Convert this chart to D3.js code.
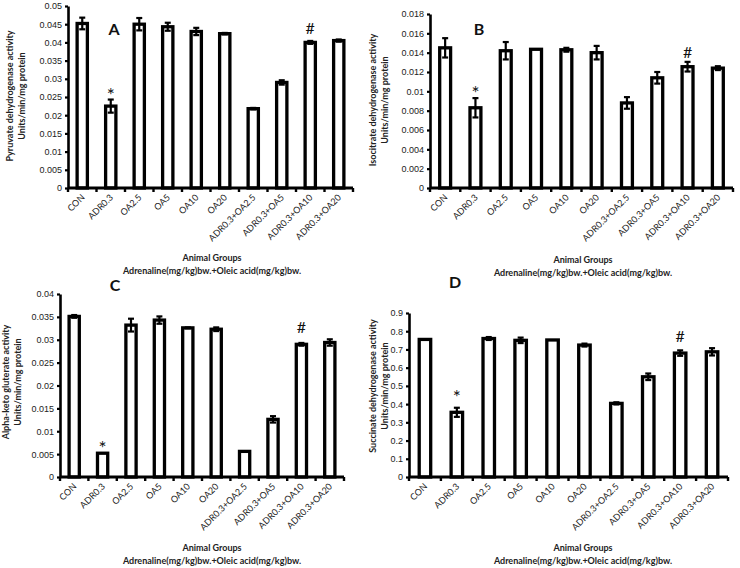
<!DOCTYPE html>
<html>
<head>
<meta charset="utf-8">
<script src="https://cdn.jsdelivr.net/npm/d3@7"></script>
<style>
  body { margin: 0; background: #fff; }
  svg { display: block; font-family: Lato, "Open Sans", sans-serif; }
</style>
</head>
<body>
<div id="chart"></div>
<script>
// groups on the x axis (same for all four panels)
const groups = ["CON", "ADR0.3", "OA2.5", "OA5", "OA10", "OA20",
  "ADR0.3+OA2.5", "ADR0.3+OA5", "ADR0.3+OA10", "ADR0.3+OA20"];

// panel A - pyruvate dehydrogenase
const pdhMean = [0.0452, 0.0225, 0.0450, 0.0443, 0.0430, 0.0424, 0.0218, 0.0290, 0.0400, 0.0405];
const pdhErr  = [0.0016, 0.0018, 0.0017, 0.0011, 0.0010, 0.0002, 0.0002, 0.0006, 0.0004, 0.0003];
const pdhTicks = [0, 0.005, 0.01, 0.015, 0.02, 0.025, 0.03, 0.035, 0.04, 0.045, 0.05];

// panel B - isocitrate dehydrogenase
const icdhMean = [0.0145, 0.0083, 0.0142, 0.01435, 0.0143, 0.0140, 0.0088, 0.0114, 0.01255, 0.0124];
const icdhErr  = [0.0010, 0.0010, 0.0009, 0.0000, 0.0002, 0.0007, 0.0006, 0.0006, 0.0005, 0.0002];
const icdhTicks = [0, 0.002, 0.004, 0.006, 0.008, 0.01, 0.012, 0.014, 0.016, 0.018];

// panel C - alpha-keto glutarate
const akgMean = [0.0351, 0.0052, 0.0332, 0.0343, 0.0326, 0.0323, 0.0056, 0.0126, 0.0290, 0.0294];
const akgErr  = [0.0003, 0.0000, 0.0014, 0.0008, 0.0001, 0.0004, 0.0000, 0.0007, 0.0003, 0.0007];
const akgTicks = [0, 0.005, 0.01, 0.015, 0.02, 0.025, 0.03, 0.035, 0.04];

// panel D - succinate dehydrogenase
const sdhMean = [0.755, 0.355, 0.760, 0.750, 0.752, 0.724, 0.404, 0.550, 0.680, 0.687];
const sdhErr  = [0.000, 0.025, 0.008, 0.015, 0.000, 0.008, 0.006, 0.018, 0.015, 0.020];
const sdhTicks = [0, 0.1, 0.2, 0.3, 0.4, 0.5, 0.6, 0.7, 0.8, 0.9];

const W = 740, H = 568;
const svg = d3.select("#chart").append("svg")
  .attr("width", W).attr("height", H);

// one panel of the figure
function panel(opt) {
  const g = svg.append("g");

  const x = d3.scaleBand()
    .domain(groups)
    .range([opt.x0, opt.x1])
    .paddingInner(0.64)
    .paddingOuter(0.32);

  const y = d3.scaleLinear()
    .domain([0, opt.ticks[opt.ticks.length - 1]])
    .range([opt.y0, opt.yTop]);

  const cx = d => x(d) + x.bandwidth() / 2;
  const idx = d => groups.indexOf(d);

  // bars
  g.selectAll("rect.bar")
    .data(groups)
    .enter().append("rect")
    .attr("class", "bar")
    .attr("x", d => x(d))
    .attr("y", d => y(opt.mean[idx(d)]))
    .attr("width", x.bandwidth())
    .attr("height", d => opt.y0 - y(opt.mean[idx(d)]))
    .attr("fill", "#fff")
    .attr("stroke", "#000")
    .attr("stroke-width", 3.3);

  // error bars
  const eb = g.selectAll("g.err")
    .data(groups.filter(d => opt.err[idx(d)] > 0))
    .enter().append("g")
    .attr("class", "err")
    .attr("stroke", "#000")
    .attr("stroke-width", 2.2);
  eb.append("line")
    .attr("x1", cx).attr("x2", cx)
    .attr("y1", d => y(opt.mean[idx(d)] - opt.err[idx(d)]))
    .attr("y2", d => y(opt.mean[idx(d)] + opt.err[idx(d)]));
  [1, -1].forEach(s => {
    eb.append("line")
      .attr("x1", d => cx(d) - 3).attr("x2", d => cx(d) + 3)
      .attr("y1", d => y(opt.mean[idx(d)] + s * opt.err[idx(d)]))
      .attr("y2", d => y(opt.mean[idx(d)] + s * opt.err[idx(d)]));
  });

  // y axis
  const ya = g.append("g")
    .attr("transform", `translate(${opt.x0},0)`)
    .call(d3.axisLeft(y).tickValues(opt.ticks).tickSize(3).tickSizeOuter(0)
      .tickFormat(d => d3.format("")(+d.toPrecision(6))));
  ya.select(".domain").attr("stroke-width", 2.6);
  ya.selectAll(".tick line").attr("stroke-width", 2.2);
  ya.selectAll(".tick text").attr("font-size", 9).attr("fill", "#222").attr("x", -6);

  // x axis: ticks sit between groups
  const step = x.step();
  const xa = g.append("g");
  xa.append("line")
    .attr("x1", opt.x0).attr("x2", opt.x1)
    .attr("y1", opt.y0).attr("y2", opt.y0)
    .attr("stroke", "#000").attr("stroke-width", 3);
  xa.selectAll("line.tk")
    .data(d3.range(groups.length + 1))
    .enter().append("line")
    .attr("class", "tk")
    .attr("x1", i => opt.x0 + i * step).attr("x2", i => opt.x0 + i * step)
    .attr("y1", opt.y0).attr("y2", opt.y0 + 4)
    .attr("stroke", "#000").attr("stroke-width", 2.4);
  xa.selectAll("text")
    .data(groups)
    .enter().append("text")
    .attr("transform", d => `translate(${cx(d) + 3},${opt.y0 + 10}) rotate(-45)`)
    .attr("text-anchor", "end")
    .attr("font-size", 9)
    .attr("fill", "#222")
    .text(d => d);

  // axis titles
  opt.yTitle.forEach((t, k) => {
    g.append("text")
      .attr("transform", `translate(${opt.yTitleX + k * 12},${opt.yTitleY}) rotate(-90)`)
      .attr("text-anchor", "middle")
      .attr("font-size", 9)
      .attr("font-weight", "bold")
      .attr("fill", "#222")
      .text(t);
  });
  ["Animal Groups", "Adrenaline(mg/kg)bw.+Oleic acid(mg/kg)bw."].forEach((t, k) => {
    g.append("text")
      .attr("x", opt.xTitleX)
      .attr("y", opt.xTitleY + k * 12.5)
      .attr("text-anchor", "middle")
      .attr("font-size", 9)
      .attr("font-weight", "bold")
      .attr("fill", "#222")
      .text(t);
  });

  // panel letter
  g.append("text")
    .attr("x", opt.letterX).attr("y", opt.letterY)
    .attr("text-anchor", "middle")
    .attr("font-size", 16)
    .attr("font-weight", "bold")
    .attr("fill", "#111")
    .text(opt.letter);

  // significance marks
  const top = i => y(opt.mean[i] + opt.err[i]);
  const iStar = idx("ADR0.3");
  const iHash = idx("ADR0.3+OA10");
  g.append("text")
    .attr("x", cx(groups[iStar])).attr("y", top(iStar) + opt.starDy)
    .attr("text-anchor", "middle")
    .attr("font-size", 19).attr("fill", "#111")
    .text("*");
  g.append("text")
    .attr("x", cx(groups[iHash])).attr("y", top(iHash) + opt.hashDy)
    .attr("text-anchor", "middle")
    .attr("font-size", 16).attr("fill", "#111")
    .text("#");
}

panel({
  mean: pdhMean, err: pdhErr, ticks: pdhTicks,
  x0: 68, x1: 353, y0: 188, yTop: 6,
  yTitle: ["Pyruvate dehydrogenase activity", "Units/min/mg protein"],
  yTitleX: 13, yTitleY: 96,
  xTitleX: 212, xTitleY: 261,
  letter: "A", letterX: 114, letterY: 35,
  starDy: 2, hashDy: -7
});

panel({
  mean: icdhMean, err: icdhErr, ticks: icdhTicks,
  x0: 430, x1: 733, y0: 188, yTop: 14,
  yTitle: ["Isocitrate dehydrogenase activity", "Units/min/mg protein"],
  yTitleX: 376, yTitleY: 100,
  xTitleX: 583, xTitleY: 263,
  letter: "B", letterX: 479, letterY: 35,
  starDy: 2, hashDy: -4
});

panel({
  mean: akgMean, err: akgErr, ticks: akgTicks,
  x0: 60, x1: 344, y0: 477, yTop: 294,
  yTitle: ["Alpha-keto gluterate activity", "Units/min/mg protein"],
  yTitleX: 9, yTitleY: 382,
  xTitleX: 212, xTitleY: 551,
  letter: "C", letterX: 115, letterY: 291,
  starDy: 2, hashDy: -10
});

panel({
  mean: sdhMean, err: sdhErr, ticks: sdhTicks,
  x0: 409, x1: 728, y0: 477, yTop: 313,
  yTitle: ["Succinate dehydrogenase activity", "Units/min/mg protein"],
  yTitleX: 376, yTitleY: 386,
  xTitleX: 583, xTitleY: 551,
  letter: "D", letterX: 455, letterY: 288,
  starDy: -4, hashDy: -8
});
</script>
</body>
</html>
